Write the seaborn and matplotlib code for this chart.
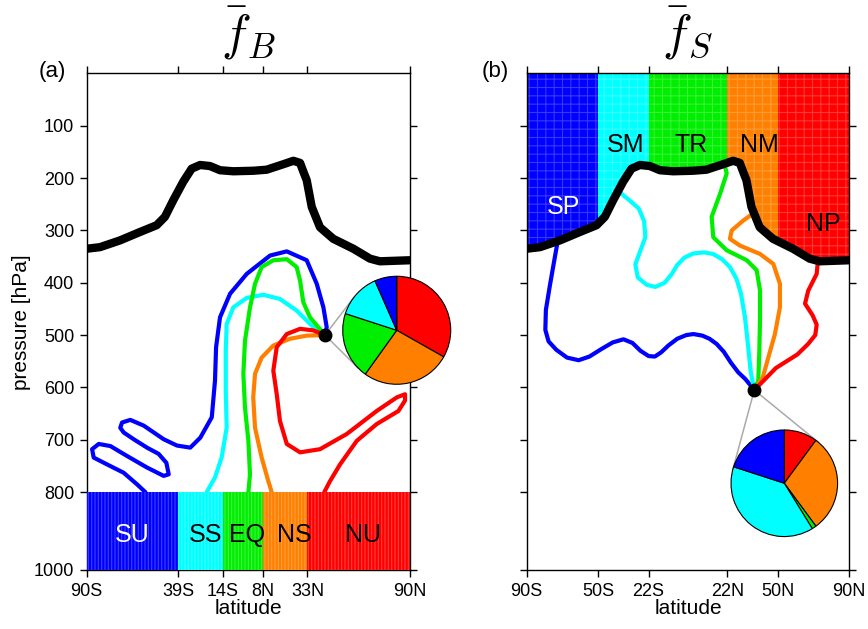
import numpy as np
import pandas as pd
import matplotlib
matplotlib.use("Agg")
import matplotlib.pyplot as plt
import seaborn as sns

sns.set_style("ticks")
plt.rcParams['font.family'] = ['Liberation Sans', 'DejaVu Sans']
plt.rcParams['mathtext.fontset'] = 'cm'
plt.rcParams['hatch.linewidth'] = 0.8
for key in ('text.color', 'axes.labelcolor', 'xtick.color', 'ytick.color', 'axes.edgecolor'):
    plt.rcParams[key] = 'black'

# ---------------- data ----------------
region_colors = ['#0000ff', '#00ffff', '#00ee00', '#ff8000', '#ff0000']   # blue, cyan, green, orange, red

# tropopause (same for both panels)
trop_lat = [-90, -82.6, -71.4, -60.3, -51, -46.4, -41.7, -36.2, -31.5, -26.8, -21.3, -15.7, -8.3,
            2.8, 10.3, 19.6, 25.2, 28.9, 31.1, 32.6, 35.4, 40, 47.4, 58.6, 67.9, 73.4, 90]
trop_p = [335, 332, 319, 303, 290, 274, 242, 207, 182, 175, 177, 185, 187,
          186, 184, 173.5, 167, 171, 191, 204, 255, 294, 316, 335, 354, 359, 357]

# panel (a): boundary-layer source regions
a_edges = [-90, -39, -14, 8, 33, 90]
a_ticklabels = ['90S', '39S', '14S', '8N', '33N', '90N']
a_names = ['SU', 'SS', 'EQ', 'NS', 'NU']
a_name_lat = [-64.6, -24.0, -0.8, 25.5, 64.2]
a_name_p = 910
a_name_colors = ['white', 'black', 'black', 'black', 'black']
a_point = (42.8, 500)
a_pie = [6.6, 13.4, 20.1, 26.7, 33.2]          # blue, cyan, green, orange, red

a_blue_lat = [42.8, 43.75, 41.9, 38.2, 32.6, 21.5, 12.2, -0.8, -10.1, -15.7, -17.9, -18.5, -20.3, -26.7,
              -32.3, -39.7, -47.1, -58.2, -65.7, -70.3, -71.3, -69.4, -63.8, -56.4, -49.9, -45.6, -44.3,
              -47.1, -56.4, -67.5, -76.8, -83.3, -87.0, -86.1, -78.7, -69.4, -62.0, -57.3]
a_blue_p = [500, 485, 447, 402, 357, 340, 348, 383, 421, 466, 523, 587, 657, 696,
            715, 711, 699, 673, 662, 667, 677, 686, 699, 715, 727, 744, 766,
            769, 753, 731, 712, 708, 718, 734, 747, 763, 785, 800]
a_cyan_lat = [42.8, 36.3, 27.0, 17.7, 8.4, -0.8, -8.3, -12.0, -12.5, -12.5, -12.0, -14.8, -18.5, -23.1]
a_cyan_p = [500, 485, 453, 431, 423, 429, 447, 479, 530, 606, 677, 734, 772, 800]
a_green_lat = [42.8, 34.4, 30.7, 28.9, 27.0, 21.5, 14.0, 7.5, 3.8, 1.0, -1.8, -2.7, -1.8, 0.1, 1.0, 0.1]
a_green_p = [500, 466, 437, 396, 370, 355, 357, 370, 402, 447, 511, 574, 638, 702, 766, 800]
a_orange_lat = [42.8, 32.6, 23.3, 14.0, 7.5, 3.8, 2.8, 3.8, 7.5, 11.2, 13.1]
a_orange_p = [500, 501, 507, 520, 543, 574, 619, 677, 734, 779, 800]
a_red_lat = [42.8, 36.3, 28.9, 21.5, 15.9, 14.0, 15.9, 17.7, 21.5, 28.9, 40.0, 54.9, 71.6, 82.8,
             87.4, 87.4, 83.7, 71.6, 60.5, 51.2, 45.6, 42.4]
a_red_p = [500, 491, 488, 498, 523, 568, 613, 664, 708, 724, 718, 689, 645, 619,
           613, 625, 645, 670, 702, 747, 779, 800]

# panel (b): stratospheric destination regions
b_edges = [-90, -50, -22, 22, 50, 90]
b_ticklabels = ['90S', '50S', '22S', '22N', '50N', '90N']
b_names = ['SP', 'SM', 'TR', 'NM', 'NP']
b_name_lat = [-69.4, -35.1, 1.5, 39.6, 75.5]
b_name_p = [255, 137, 137, 137, 287]
b_name_colors = ['white', 'black', 'black', 'black', 'black']
b_point = (37.0, 605)
b_pie = [20.0, 38.8, 1.3, 29.8, 10.1]          # blue, cyan, green, orange, red

b_blue_lat = [-72.1, -74.6, -77.2, -79.3, -79.6, -77.8, -73.5, -67.5, -61, -55, -48.5, -42, -36, -31,
              -26.5, -22, -18.5, -15, -11, -6, -1, 3, 8, 12, 16, 20, 24, 28, 32, 37.0]
b_blue_p = [309, 357, 408, 452, 490, 512, 528, 543, 548, 541, 527, 514, 508, 515,
            530, 540, 541, 533, 520, 507, 500, 498, 501, 507, 517, 532, 553, 571, 584, 605]
b_cyan_lat = [-39.6, -33.5, -27.5, -24.5, -23.8, -26.5, -29.4, -28, -23, -18.2, -13, -9, -6, -2, 3, 9,
              14, 19, 23.4, 27, 29.5, 31.8, 33.5, 35, 37.0]
b_cyan_p = [223, 240, 258, 282, 313, 338, 365, 390, 404, 408, 400, 383, 366, 352, 344, 342,
            345, 355, 370, 392, 420, 466, 520, 570, 605]
b_green_lat = [19.8, 21.6, 17.9, 13.2, 14.1, 21.6, 32.8, 38.3, 40.2, 40.2, 39.8, 39.2, 37.0]
b_green_p = [166, 191, 230, 274, 313, 338, 357, 376, 415, 466, 530, 587, 605]
b_orange_lat = [37.4, 30.9, 24.4, 23.4, 29.0, 40.2, 47.6, 51.3, 51.3, 48.5, 44.8, 41.7, 37.0]
b_orange_p = [265, 281, 300, 316, 329, 345, 364, 402, 447, 498, 543, 581, 605]
b_red_lat = [72.7, 71.8, 67.1, 65.3, 69.5, 71.8, 71, 67, 61, 55, 49, 43.9, 37.0]
b_red_p = [351, 383, 415, 440, 462, 480, 500, 517, 537, 550, 563, 581, 605]

p_ticks = [100, 200, 300, 400, 500, 600, 700, 800, 1000]

# ---------------- helpers ----------------
BREAK, SQUEEZE = 800.0, 0.744


def fwd(p):
    p = np.asarray(p, float)
    return np.where(p <= BREAK, p, BREAK + (p - BREAK) * SQUEEZE)


def inv(y):
    y = np.asarray(y, float)
    return np.where(y <= BREAK, y, BREAK + (y - BREAK) / SQUEEZE)


def curves_frame(lats, ps):
    frames = []
    for k, (la, pp) in enumerate(zip(lats, ps)):
        frames.append(pd.DataFrame({'lat': la, 'p': pp, 'region': k}))
    return pd.concat(frames, ignore_index=True)


W, H = 868, 629
fig = plt.figure(figsize=(W / 100, H / 100), dpi=100)
axA = fig.add_axes([86.7 / W, 1 - 570 / H, 323 / W, 496.6 / H])
axB = fig.add_axes([526.7 / W, 1 - 570 / H, 322.6 / W, 496.6 / H])

trop_df = pd.DataFrame({'lat': trop_lat, 'p': trop_p})

for ax in (axA, axB):
    ax.set_yscale('function', functions=(fwd, inv))

pal = {k: c for k, c in enumerate(region_colors)}

# ---- panel a ----
dfA = curves_frame([a_blue_lat, a_cyan_lat, a_green_lat, a_orange_lat, a_red_lat],
                   [a_blue_p, a_cyan_p, a_green_p, a_orange_p, a_red_p])
sns.lineplot(data=dfA, x='lat', y='p', hue='region', units='region', estimator=None, sort=False,
             palette=pal, lw=3.0, legend=False, ax=axA, zorder=2,
             solid_capstyle='round', solid_joinstyle='round')
sns.lineplot(data=trop_df, x='lat', y='p', color='k', lw=6, sort=False, estimator=None,
             ax=axA, zorder=4, solid_capstyle='round', solid_joinstyle='round')
for i in range(5):
    axA.fill_between([a_edges[i], a_edges[i + 1]], 800, 1000, facecolor=region_colors[i],
                     edgecolor=(1, 1, 1, 0.25), hatch='|||||', linewidth=0, zorder=3)
    axA.text(a_name_lat[i], a_name_p, a_names[i], color=a_name_colors[i], fontsize=18,
             ha='center', va='center', zorder=5)

# ---- panel b ----
dfB = curves_frame([b_blue_lat, b_cyan_lat, b_green_lat, b_orange_lat, b_red_lat],
                   [b_blue_p, b_cyan_p, b_green_p, b_orange_p, b_red_p])
sns.lineplot(data=dfB, x='lat', y='p', hue='region', units='region', estimator=None, sort=False,
             palette=pal, lw=3.0, legend=False, ax=axB, zorder=2,
             solid_capstyle='round', solid_joinstyle='round')
sns.lineplot(data=trop_df, x='lat', y='p', color='k', lw=6, sort=False, estimator=None,
             ax=axB, zorder=4, solid_capstyle='round', solid_joinstyle='round')
clip_poly = axB.fill_between(trop_lat, 0, trop_p, facecolor='none', edgecolor='none', linewidth=0)
clip_path = clip_poly.get_paths()[0]
for i in range(5):
    band = axB.fill_between([b_edges[i], b_edges[i + 1]], 0, 1000, facecolor=region_colors[i],
                            edgecolor=(1, 1, 1, 0.22), hatch='++', linewidth=0, zorder=1)
    band.set_clip_path(clip_path, axB.transData)
    axB.text(b_name_lat[i], b_name_p[i], b_names[i], color=b_name_colors[i], fontsize=18,
             ha='center', va='center', zorder=5)

# ---- axes cosmetics ----
for ax, edges, labels in ((axA, a_edges, a_ticklabels), (axB, b_edges, b_ticklabels)):
    ax.set_xlim(-90, 90)
    ax.set_ylim(1000, 0)
    ax.set_xticks(edges, labels)
    ax.set_yticks(p_ticks)
    ax.tick_params(direction='out', length=5, width=1, top=True, right=True,
                   labelsize=13, colors='black', pad=4)
    for s in ax.spines.values():
        s.set_linewidth(1.0)
        s.set_color('black')
    ax.set_xlabel('latitude', fontsize=15, labelpad=0, color='black')
    ax.set_ylabel('')
axA.set_yticklabels([str(v) for v in p_ticks])
axB.set_yticklabels([])
axA.set_ylabel('pressure [hPa]', fontsize=15, labelpad=2, color='black')
axA.set_title(r'$\bar{f}_B$', fontsize=36, pad=17, color='black')
axB.set_title(r'$\bar{f}_S$', fontsize=36, pad=17, color='black')
fig.text(52 / W, 1 - 71 / H, '(a)', fontsize=16, ha='center', va='center', color='black')
fig.text(495 / W, 1 - 71 / H, '(b)', fontsize=16, ha='center', va='center', color='black')


# ---- pies + connectors ----
def add_pie(ax, bounds, values, point):
    pax = ax.inset_axes(bounds)
    vals = values[::-1]
    cols = region_colors[::-1]
    wedges, _ = pax.pie(vals, colors=cols, startangle=90, counterclock=False,
                        wedgeprops=dict(edgecolor='k', linewidth=0.8))
    for w in wedges:
        w.set_clip_on(False)
    pax.set_xlim(-1, 1)
    pax.set_ylim(-1, 1)
    pax.axis('off')
    # tangent connector lines (display space)
    c = ax.transAxes.transform((bounds[0] + bounds[2] / 2, bounds[1] + bounds[3] / 2))
    r = ax.transAxes.transform((bounds[2], 0))[0] - ax.transAxes.transform((0, 0))[0]
    r /= 2
    P = ax.transData.transform(point)
    v = P - c
    d = np.hypot(*v)
    u = v / d
    ang = np.arccos(r / d)
    inv_t = ax.transData.inverted()
    for sgn in (1, -1):
        rot = np.array([[np.cos(sgn * ang), -np.sin(sgn * ang)], [np.sin(sgn * ang), np.cos(sgn * ang)]])
        T = c + r * rot @ u
        Td = inv_t.transform(T)
        ax.plot([point[0], Td[0]], [point[1], Td[1]], color='#aaaaaa', lw=1.1, zorder=1.5, clip_on=False)
    ax.plot([point[0]], [point[1]], 'o', color='k', ms=9, zorder=10, clip_on=False)


add_pie(axA, [0.7926, 0.3740, 0.3344, 0.2175], a_pie, a_point)
add_pie(axB, [0.6333, 0.0673, 0.3304, 0.2147], b_pie, b_point)

fig.savefig('out.png', dpi=100)
